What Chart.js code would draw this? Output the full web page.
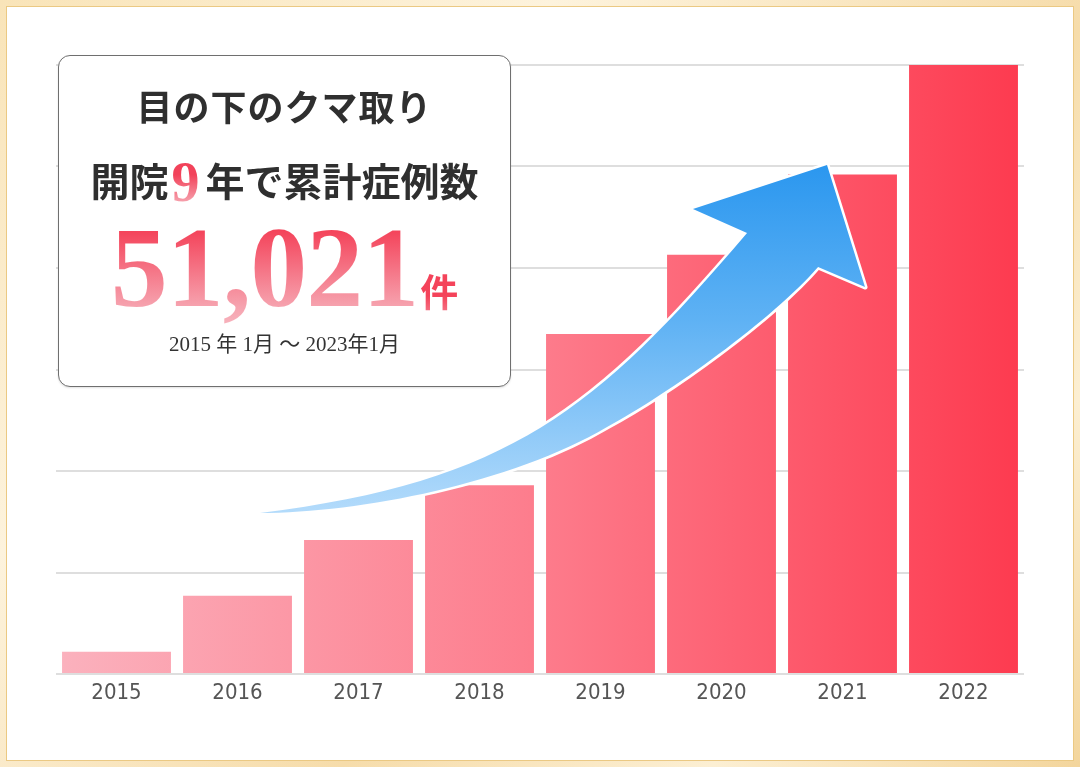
<!DOCTYPE html>
<html lang="ja">
<head>
<meta charset="utf-8">
<script src="https://cdn.jsdelivr.net/npm/chart.js@4.4.1/dist/chart.umd.min.js"></script>
<style>
  html,body{margin:0;padding:0;width:1080px;height:767px;overflow:hidden;background:#fff;}
  #frame{position:absolute;left:0;top:0;width:1080px;height:767px;
    background:linear-gradient(135deg,#f9e4b8 0%,#fdf3dd 30%,#f6dcaa 60%,#fcefd3 80%,#f3d59c 100%);}
  #inner{position:absolute;left:6px;top:6px;width:1066px;height:753px;background:#fff;border:1px solid #ebc983;}
  #c{position:absolute;left:0;top:0;}
  #box{position:absolute;left:58px;top:55px;width:451px;height:330px;background:#fff;
    border:1px solid #6f6f6f;border-radius:12px;box-shadow:0 1px 2px rgba(0,0,0,0.12);}
  .t{position:absolute;left:58px;width:453px;text-align:center;white-space:nowrap;color:#2f2f2f;}
  #l1{top:87px;font:700 36px/36px "Noto Sans CJK JP",sans-serif;letter-spacing:1px;}
  #l2{top:158px;font:700 39px/39px "Noto Sans CJK JP",sans-serif;}
  #l2 .nine{font:700 56px/39px "Liberation Serif",serif;margin:0 6px 0 3px;display:inline-block;position:relative;top:5px;
    background:linear-gradient(180deg,#f2425a 0%,#f2425a 30%,#f6a0ac 100%);
    -webkit-background-clip:text;background-clip:text;-webkit-text-fill-color:transparent;color:transparent;}
  #l3{top:211px;height:114px;}
  #l3 .num{font:700 114px/114px "Liberation Serif",serif;letter-spacing:-1px;display:inline-block;
    background:linear-gradient(180deg,#f43d56 0%,#f4435a 17%,#f6a3af 84%,#f7b2bc 100%);
    -webkit-background-clip:text;background-clip:text;-webkit-text-fill-color:transparent;color:transparent;}
  #l3 .ken{font:700 38px/114px "Noto Sans CJK JP",sans-serif;display:inline-block;margin-left:2px;
    background:linear-gradient(180deg,#f4435a 55%,#f6a3af 85%);
    -webkit-background-clip:text;background-clip:text;-webkit-text-fill-color:transparent;color:transparent;}
  #l4{top:334px;font:400 21px/21px "Liberation Serif","Noto Sans CJK JP",serif;color:#333;}
</style>
</head>
<body>
<div id="frame"></div>
<div id="inner"></div>
<canvas id="c" width="1080" height="767"></canvas>
<div id="box"></div>
<div class="t" id="l1">目の下のクマ取り</div>
<div class="t" id="l2">開院<span class="nine">9</span>年で累計症例数</div>
<div class="t" id="l3"><span class="num">51,021</span><span class="ken">件</span></div>
<div class="t" id="l4">2015 年 1月 ～ 2023年1月</div>
<script>
// ---- data ----
const years = ['2015','2016','2017','2018','2019','2020','2021','2022'];
const caseValues = [2200, 7700, 13200, 18600, 33500, 41300, 49200, 60000];
const yMax = 60000;
const yStep = 10000;

// decorative arrow outline in data space [category index, value]
// upper edge: one cubic (start, c1, c2, end)
const arrowUpper = [[1.186,15862],[3.252,18916],[3.971,26108],[5.211,43448]];
// head: left barb, tip, right barb, right notch
const arrowHead  = [[4.764,45813],[5.872,50148],[6.186,38128],[5.798,40098]];
// lower edge: two cubics (c1, c2, end) from right notch back to tail
const arrowLower = [
  [[5.417,34877],[4.574,27685],[4.054,24335]],
  [[3.269,18818],[2.012,15862],[1.186,15862]]
];

const arrowPlugin = {
  id:'arrow',
  afterDatasetsDraw(chart){
    const {ctx, scales:{x,y}} = chart;
    const P = p => [x.getPixelForValue(p[0]), y.getPixelForValue(p[1])];
    const u = arrowUpper.map(P), h = arrowHead.map(P);
    ctx.save();
    ctx.beginPath();
    ctx.moveTo(u[0][0],u[0][1]);
    ctx.bezierCurveTo(u[1][0],u[1][1],u[2][0],u[2][1],u[3][0],u[3][1]);
    h.forEach(p=>ctx.lineTo(p[0],p[1]));
    arrowLower.forEach(seg=>{
      const s = seg.map(P);
      ctx.bezierCurveTo(s[0][0],s[0][1],s[1][0],s[1][1],s[2][0],s[2][1]);
    });
    ctx.closePath();
    const g = ctx.createLinearGradient(0, h[1][1], 0, u[0][1]);
    g.addColorStop(0,'#2b97ef');
    g.addColorStop(0.45,'#5fb2f4');
    g.addColorStop(1,'#b3dbfb');
    ctx.lineJoin='round';
    ctx.lineWidth=5;
    ctx.strokeStyle='#ffffff';
    ctx.stroke();
    ctx.fillStyle=g;
    ctx.fill();
    ctx.restore();
  }
};

function barGradient(context){
  const chart = context.chart;
  const {ctx, chartArea} = chart;
  if(!chartArea) return '#fd7081';
  const g = ctx.createLinearGradient(chartArea.left,0,chartArea.right,0);
  g.addColorStop(0,'#fbb2be');
  g.addColorStop(0.5,'#fd7c8c');
  g.addColorStop(1,'#fd3a4f');
  return g;
}

new Chart(document.getElementById('c'), {
  type:'bar',
  data:{
    labels: years,
    datasets:[{
      data: caseValues,
      backgroundColor: barGradient,
      borderWidth:0,
      barPercentage:0.9,
      categoryPercentage:1.0
    }]
  },
  options:{
    responsive:false,
    animation:false,
    events:[],
    layout:{padding:{left:56,right:56,top:65,bottom:53}},
    plugins:{legend:{display:false},tooltip:{enabled:false}},
    scales:{
      x:{
        grid:{display:false,drawTicks:false},
        border:{display:false},
        ticks:{color:'#555555',padding:6,font:{family:"'Liberation Sans Narrow','DejaVu Sans Condensed',sans-serif",size:22}},
        afterFit(s){ s.height = 40; }
      },
      y:{
        min:0,max:yMax,
        ticks:{display:false,stepSize:yStep},
        grid:{color:'#dedede',lineWidth:2,drawTicks:false},
        border:{display:false},
        afterFit(s){ s.width = 0; }
      }
    }
  },
  plugins:[arrowPlugin]
});
</script>
</body>
</html>
